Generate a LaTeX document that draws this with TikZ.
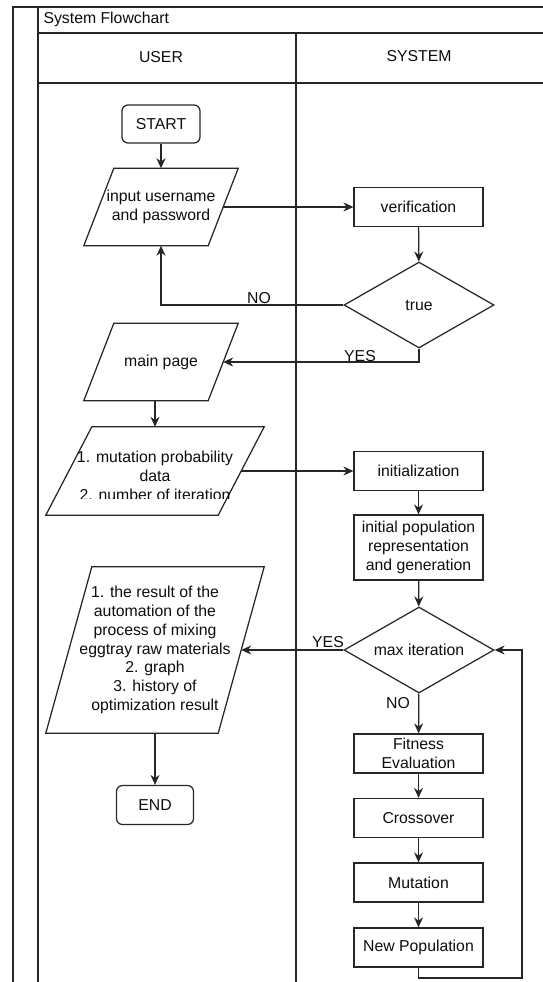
\documentclass[tikz,border=0pt]{standalone}
\usepackage{fontspec}
\setmainfont{Liberation Sans}
\usepackage{tikz}
\usetikzlibrary{shapes.geometric}
\usetikzlibrary{arrows.meta}
\tikzstyle{every node} = [font=\fontsize{15.8}{18.8}\selectfont, text=black!95]
\tikzstyle{lane} = [line width=1.25pt, draw=black!85]
\tikzstyle{proc} = [draw=black!85, line width=1.25pt, minimum width=129pt, minimum height=39pt, inner sep=0pt, align=center]
\tikzstyle{term} = [proc, rounded corners=6pt, minimum width=78pt, minimum height=38pt]
\tikzstyle{io} = [minimum height=77pt, inner sep=0pt, align=center]
\tikzstyle{cond} = [draw=black!85, diamond, aspect=1.75, line width=1.25pt, minimum width=150pt, minimum height=86pt, inner sep=0pt]
\tikzstyle{arr} = [-{Stealth[length=10pt,width=9pt]}, line width=1.25pt, draw=black!85]
\tikzstyle{lbl} = [inner sep=0pt]
% outline of a data (parallelogram) node, #2 = half of the slant
\newcommand{\slantio}[2]{\draw[line width=1.25pt, draw=black!85] ([xshift=-#2]#1.south west) -- ([xshift=#2]#1.north west) -- ([xshift=#2]#1.north east) -- ([xshift=-#2]#1.south east) -- cycle;}

\begin{document}
\begin{tikzpicture}[x=1pt,y=-1pt]
    \useasboundingbox (0,0) rectangle (543,982);
    % Draw swimlanes
    \draw[lane] (13,982) -- (13,7) -- (543,7);
    \draw[lane] (38,7) -- (38,982);
    \draw[lane] (38,33) -- (543,33);
    \draw[lane] (38,83) -- (543,83);
    \draw[lane] (296,33) -- (296,982);
    \node[anchor=west] (title) at (40,19) {System Flowchart};
    \node (user) at (161,57) {USER};
    \node (system) at (419,56) {SYSTEM};

    % USER lane
    \node[term] (start) at (161,124) {START};
    \node[io, minimum width=124pt] (input) at (161,207) {input username\\and password};
    \slantio{input}{15pt}
    \node[io, minimum width=124pt] (main) at (161,362) {main page};
    \slantio{main}{15pt}
    \node[io, minimum width=172pt, minimum height=88pt] (param) at (155,471) {};
    \slantio{param}{23pt}
    \begin{scope}
        \clip (50,427) rectangle (260,498);
        \node[align=center] (paramtext) at (155,476) {1. mutation probability\\data\\2. number of iteration};
    \end{scope}
    \node[io, minimum width=172pt, minimum height=166pt] (result) at (155,650) {1. the result of the\\automation of the\\process of mixing\\eggtray raw materials\\2. graph\\3. history of\\optimization result};
    \slantio{result}{23pt}
    \node[term, minimum width=77pt, minimum height=39pt] (end) at (155,805) {END};

    % SYSTEM lane
    \node[proc] (verif) at (418.5,207) {verification};
    \node[cond] (valid) at (419,305) {true};
    \node[proc] (init) at (418.5,471) {initialization};
    \node[proc, minimum height=65pt] (initpop) at (418.5,547.5) {initial population\\representation\\and generation};
    \node[cond] (maxit) at (419,650) {max iteration};
    \node[proc] (fitness) at (418.5,753.5) {Fitness\\Evaluation};
    \node[proc] (cross) at (418.5,818) {Crossover};
    \node[proc] (mutate) at (418.5,882.5) {Mutation};
    \node[proc] (newpop) at (418.5,947.5) {New Population};
    \coordinate (back) at (522,978);

    % Draw connectors
    \draw[arr] (start) -- (input);
    \draw[arr] (input.east) -- (verif.west);
    \draw[arr] (verif) -- (valid);
    \draw[arr] (valid.west) -| (input.south);
    \draw[arr] (valid.south) |- (main.east);
    \draw[arr] (main.south -| param.north) -- (param.north);
    \draw[arr] (param.east) -- (init.west);
    \draw[arr] (init) -- (initpop);
    \draw[arr] (initpop) -- (maxit);
    \draw[arr] (maxit.west) -- (result.east);
    \draw[arr] (result) -- (end);
    \draw[arr] (maxit) -- (fitness);
    \draw[arr] (fitness) -- (cross);
    \draw[arr] (cross) -- (mutate);
    \draw[arr] (mutate) -- (newpop);
    \draw[arr] (newpop.south) |- (back) |- (maxit.east);

    \node[lbl] (no1) at (259,298) {NO};
    \node[lbl] (yes1) at (360,356) {YES};
    \node[lbl, anchor=east] (yes2) at (344,642) {YES};
    \node[lbl] (no2) at (398,703) {NO};
\end{tikzpicture}
\end{document}
